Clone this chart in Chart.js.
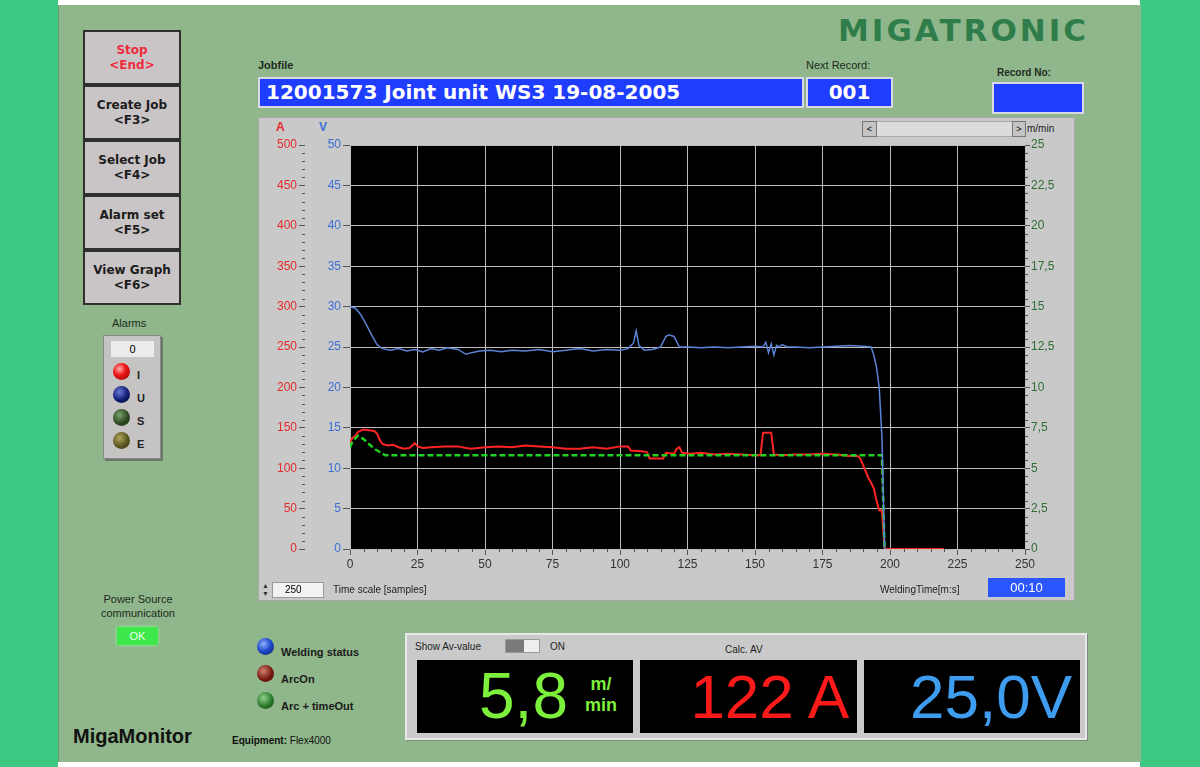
<!DOCTYPE html>
<html>
<head>
<meta charset="utf-8">
<script src="https://cdn.jsdelivr.net/npm/chart.js@4"></script>
<style>
  body { margin: 0; width: 1200px; height: 767px; position: relative; overflow: hidden; background: #fff; font-family: "Liberation Sans", "DejaVu Sans", sans-serif; }
  .abs { position: absolute; }
  .stripe { background: #3ec983; top: 0; height: 767px; }
  #panel { left: 58px; top: 5px; width: 1082px; height: 757px; background: #8fb78b; border-left: 1px solid #6f9a6c; }
  .btn { left: 83px; width: 94px; height: 51px; background: #c9c5c6; border: 2px solid #303030; text-align: center; font: bold 12px "DejaVu Sans", sans-serif; color: #1c1c1c; line-height: 15px; box-sizing: content-box; }
  .btn div { padding-top: 11px; }
  .lbl { font-size: 11px; color: #1f2a1f; }
  .blue { background: #1f3dff; color: #fff; font: bold 20px "DejaVu Sans", sans-serif; border: 2px solid #d8d8e8; box-sizing: border-box; }
  .led { width: 17px; height: 17px; border-radius: 50%; }
  .big { font-family: "Liberation Sans", sans-serif; position: absolute; top: 0; line-height: 73px; }
  .dsp { top: 660px; height: 73px; width: 216px; background: #000; }
</style>
</head>
<body>
<div class="abs stripe" style="left:0;width:58px"></div>
<div class="abs stripe" style="left:1140px;width:60px"></div>
<div class="abs" id="panel"></div>

<div class="abs" style="left:838px;top:12px;font:bold 31px 'DejaVu Sans',sans-serif;color:#2f7d4a;letter-spacing:3px">MIGATRONIC</div>

<!-- buttons -->
<div class="abs btn" style="top:30px;color:#ee2c3c"><div>Stop<br>&lt;End&gt;</div></div>
<div class="abs btn" style="top:85px"><div>Create Job<br>&lt;F3&gt;</div></div>
<div class="abs btn" style="top:140px"><div>Select Job<br>&lt;F4&gt;</div></div>
<div class="abs btn" style="top:195px"><div>Alarm set<br>&lt;F5&gt;</div></div>
<div class="abs btn" style="top:250px"><div>View Graph<br>&lt;F6&gt;</div></div>

<!-- alarms -->
<div class="abs lbl" style="left:112px;top:317px">Alarms</div>
<div class="abs" style="left:103px;top:335px;width:56px;height:122px;background:#c6c3c3;border:1px solid #888;box-shadow:2px 2px 0 #6a7a68"></div>
<div class="abs" style="left:111px;top:341px;width:43px;height:16px;background:#ececec;font-size:11px;text-align:center;line-height:16px">0</div>
<div class="abs led" style="left:113px;top:363px;background:radial-gradient(circle at 38% 35%,#ffb0b0 0,#f01818 40%,#8a0000 100%)"></div>
<div class="abs led" style="left:113px;top:386px;background:radial-gradient(circle at 38% 35%,#6a7ad8 0,#0e1a70 55%,#050a30 100%)"></div>
<div class="abs led" style="left:113px;top:409px;background:radial-gradient(circle at 38% 35%,#7aa070 0,#2c4a22 55%,#152810 100%)"></div>
<div class="abs led" style="left:113px;top:432px;background:radial-gradient(circle at 38% 35%,#b0a860 0,#5a5520 55%,#2e2a10 100%)"></div>
<div class="abs" style="left:137px;top:364px;font:bold 11px sans-serif;color:#222;line-height:23px">I<br>U<br>S<br>E</div>

<!-- power source -->
<div class="abs lbl" style="left:88px;top:592px;width:100px;text-align:center;line-height:14px">Power Source<br>communication</div>
<div class="abs" style="left:117px;top:627px;width:41px;height:18px;background:#3ee84a;box-shadow:0 0 3px #9f9;color:#e8ffe8;font-size:11px;text-align:center;line-height:18px">OK</div>

<div class="abs" style="left:73px;top:725px;font:bold 20px 'Liberation Sans',sans-serif;color:#111">MigaMonitor</div>
<div class="abs" style="left:232px;top:735px;font-size:10px;color:#111"><b>Equipment:</b> Flex4000</div>

<!-- job file header -->
<div class="abs lbl" style="left:258px;top:59px;font-weight:bold">Jobfile</div>
<div class="abs blue" style="left:258px;top:77px;width:546px;height:31px;padding-left:6px;line-height:27px">12001573 Joint unit WS3 19-08-2005</div>
<div class="abs lbl" style="left:806px;top:59px">Next Record:</div>
<div class="abs blue" style="left:806px;top:77px;width:87px;height:31px;text-align:center;line-height:27px">001</div>
<div class="abs lbl" style="left:997px;top:67px;font-weight:bold;font-size:10px">Record No:</div>
<div class="abs blue" style="left:992px;top:82px;width:92px;height:32px"></div>

<!-- graph panel -->
<div class="abs" style="left:258px;top:117px;width:817px;height:484px;background:#c9c9c9;border:1px solid #a8a8a8;box-sizing:border-box"></div>
<div class="abs" style="left:276px;top:120px;font:bold 12px sans-serif;color:#e52a2a">A</div>
<div class="abs" style="left:319px;top:120px;font:bold 12px sans-serif;color:#3d6fd6">V</div>
<div class="abs" style="left:862px;top:121px;width:163px;height:16px;background:#dcdcdc;border:1px solid #aaa;box-sizing:border-box"></div>
<div class="abs" style="left:862px;top:121px;width:15px;height:16px;background:#c4c4c4;border:1px solid #777;box-sizing:border-box;font-size:9px;text-align:center;line-height:14px">&lt;</div>
<div class="abs" style="left:1012px;top:121px;width:14px;height:16px;background:#c4c4c4;border:1px solid #777;box-sizing:border-box;font-size:9px;text-align:center;line-height:14px">&gt;</div>
<div class="abs" style="left:1027px;top:123px;font-size:10px;color:#222">m/min</div>

<div class="abs" style="left:258px;top:118px">
  <canvas id="chart" width="817" height="482"></canvas>
</div>

<div class="abs" style="left:262px;top:582px;width:7px;height:16px;font-size:7px;line-height:8px;color:#333">&#9650;<br>&#9660;</div>
<div class="abs" style="left:272px;top:582px;width:52px;height:16px;background:#f2f2f2;border:1px solid #999;box-sizing:border-box;font-size:10px;line-height:14px;padding-left:12px">250</div>
<div class="abs" style="left:333px;top:584px;font-size:10px;color:#222">Time scale [samples]</div>
<div class="abs" style="left:880px;top:584px;font-size:10px;color:#222">WeldingTime[m:s]</div>
<div class="abs" style="left:988px;top:578px;width:77px;height:19px;background:#2b55ff;color:#fff;font-size:13px;text-align:center;line-height:19px">00:10</div>

<!-- status leds -->
<div class="abs led" style="left:257px;top:638px;background:radial-gradient(circle at 38% 35%,#8ab0ff 0,#1a45c8 50%,#0a1e60 100%)"></div>
<div class="abs led" style="left:257px;top:665px;background:radial-gradient(circle at 38% 35%,#d08070 0,#7a1a10 55%,#3a0a05 100%)"></div>
<div class="abs led" style="left:257px;top:692px;background:radial-gradient(circle at 38% 35%,#90d090 0,#2a7a2a 55%,#0f3a0f 100%)"></div>
<div class="abs" style="left:281px;top:639px;font:bold 11px sans-serif;color:#1a1a1a;line-height:27px">Welding status<br>ArcOn<br>Arc + timeOut</div>

<!-- average display -->
<div class="abs" style="left:405px;top:633px;width:682px;height:107px;background:#cacaca;border:2px solid #e8e8e8;box-sizing:border-box;box-shadow:1px 1px 0 #7a8a78"></div>
<div class="abs" style="left:415px;top:641px;font-size:10px;color:#222">Show Av-value</div>
<div class="abs" style="left:505px;top:639px;width:35px;height:14px;background:#eee;border:1px solid #999;box-sizing:border-box"><div style="width:18px;height:12px;background:#7a7a7a"></div></div>
<div class="abs" style="left:550px;top:641px;font-size:10px;color:#222">ON</div>
<div class="abs" style="left:725px;top:644px;font-size:10px;color:#222">Calc. AV</div>
<div class="abs dsp" style="left:417px">
  <div class="big" style="left:62px;font-size:64px;color:#7cf03a">5,8</div>
  <div class="abs" style="left:168px;top:14px;font:bold 18px 'Liberation Sans',sans-serif;color:#7cf03a;line-height:21px;text-align:center">m/<br>min</div>
</div>
<div class="abs dsp" style="left:640px;width:217px">
  <div class="big" style="right:8px;font-size:62px;color:#ff1a1a">122 A</div>
</div>
<div class="abs dsp" style="left:864px">
  <div class="big" style="right:8px;font-size:62px;color:#3f9df0">25,0V</div>
</div>

<script>
// time axis
const sampleTicks = [0, 25, 50, 75, 100, 125, 150, 175, 200, 225, 250];

// voltage [V]
const voltSamples = [0, 2, 4, 6, 8, 10, 12, 15, 18, 21, 24, 27, 30, 33, 36, 40, 43, 45, 48, 52, 56, 60, 65, 70, 75, 80, 85, 90, 95, 100, 103, 105, 106, 107, 109, 112, 115, 117, 118, 120, 122, 125, 130, 135, 140, 145, 150, 153, 154, 155, 156, 157, 158, 159, 160, 162, 165, 170, 175, 180, 185, 190, 193, 194, 195, 196, 197, 198];
const voltValues = [30, 29.8, 29, 27.8, 26.5, 25.3, 24.8, 24.6, 24.8, 24.5, 24.7, 24.4, 24.8, 24.6, 24.9, 24.7, 24.1, 24.3, 24.5, 24.6, 24.4, 24.6, 24.5, 24.7, 24.4, 24.6, 24.8, 24.5, 24.7, 24.6, 24.8, 25.5, 27.0, 25.2, 24.6, 24.7, 25.0, 26.3, 26.5, 26.3, 25.0, 25.0, 24.9, 25.0, 24.9, 25.0, 25.1, 25.0, 25.6, 24.3, 25.4, 24.0, 25.2, 25.0, 25.3, 25.0, 25.0, 24.9, 25.0, 25.1, 25.2, 25.1, 25.0, 24.0, 22.5, 20, 14, 0];

// current [A]
const currSamples = [0, 1, 2, 3, 5, 7, 9, 10, 11, 12, 14, 16, 18, 20, 22, 24, 25, 27, 30, 35, 40, 43, 45, 50, 55, 60, 65, 70, 75, 80, 85, 90, 95, 100, 103, 104, 108, 110, 111, 116, 117, 120, 121, 122, 123, 126, 130, 135, 140, 145, 150, 152, 153, 156, 157, 160, 165, 170, 175, 180, 185, 188, 189, 190, 191, 192, 193, 194, 195, 196, 197, 198, 220];
const currValues = [132, 138, 140, 145, 148, 147, 146, 143, 135, 130, 128, 129, 126, 124, 125, 131, 127, 125, 126, 127, 127, 125, 124, 126, 127, 126, 128, 127, 126, 124, 124, 126, 124, 127, 127, 122, 121, 120, 112, 112, 119, 118, 124, 126, 119, 118, 119, 117, 118, 117, 116, 116, 144, 144, 117, 116, 117, 117, 118, 117, 115, 115, 112, 104, 96, 88, 82, 75, 60, 48, 48, 0, 0];

// wire speed [m/min]
const wireSamples = [0, 1, 3, 5, 7, 9, 11, 13, 60, 110, 160, 197, 198];
const wireValues = [6.3, 6.7, 7.0, 6.8, 6.5, 6.2, 6.0, 5.8, 5.8, 5.8, 5.8, 5.8, 0];

const toPoints = (xs, ys) => xs.map((x, i) => ({ x: x, y: ys[i] }));
const tickFont = { family: "Liberation Sans", size: 12 };

const blackArea = {
  id: "blackArea",
  beforeDraw(chart) {
    const { ctx, chartArea: a } = chart;
    ctx.save();
    ctx.fillStyle = "#000";
    ctx.fillRect(a.left, a.top, a.right - a.left, a.bottom - a.top);
    ctx.restore();
  },
  afterDraw(chart) {
    // minor tick marks
    const { ctx, chartArea: a, scales } = chart;
    ctx.save();
    ctx.strokeStyle = "#555";
    ctx.lineWidth = 1;
    ctx.beginPath();
    for (let v = 0; v <= 250; v += 5) {
      if (v % 25 === 0) continue;
      const px = Math.round(scales.x.getPixelForValue(v)) + 0.5;
      ctx.moveTo(px, a.bottom); ctx.lineTo(px, a.bottom + 3);
    }
    for (let v = 0; v <= 500; v += 10) {
      if (v % 50 === 0) continue;
      const py = Math.round(scales.yA.getPixelForValue(v)) + 0.5;
      ctx.moveTo(scales.yA.right - 3, py); ctx.lineTo(scales.yA.right, py);
    }
    for (let v = 0; v <= 25; v += 0.5) {
      if (Math.abs(v / 2.5 - Math.round(v / 2.5)) < 1e-6) continue;
      const py = Math.round(scales.yS.getPixelForValue(v)) + 0.5;
      ctx.moveTo(a.right, py); ctx.lineTo(a.right + 3, py);
    }
    ctx.stroke();
    ctx.restore();
  }
};

new Chart(document.getElementById("chart").getContext("2d"), {
  type: "line",
  data: {
    datasets: [
      {
        label: "Voltage",
        data: toPoints(voltSamples, voltValues),
        yAxisID: "yV",
        borderColor: "#5b84d8",
        borderWidth: 1.5,
        pointRadius: 0,
        tension: 0,
      },
      {
        label: "Wire speed",
        data: toPoints(wireSamples, wireValues),
        yAxisID: "yS",
        borderColor: "#22d022",
        borderWidth: 2.5,
        borderDash: [6, 3],
        pointRadius: 0,
        tension: 0,
      },
      {
        label: "Current",
        data: toPoints(currSamples, currValues),
        yAxisID: "yA",
        borderColor: "#ff2424",
        borderWidth: 2,
        pointRadius: 0,
        tension: 0,
      },
    ],
  },
  options: {
    responsive: false,
    animation: false,
    devicePixelRatio: 1,
    layout: { padding: { top: 27, bottom: 21, left: 0, right: 0 } },
    plugins: { legend: { display: false }, tooltip: { enabled: false } },
    scales: {
      x: {
        type: "linear",
        min: 0,
        max: 250,
        afterBuildTicks: (s) => { s.ticks = sampleTicks.map((v) => ({ value: v })); },
        ticks: { color: "#333", font: tickFont, padding: 2, maxRotation: 0 },
        grid: { color: "#bdbdbd", tickColor: "#555", tickLength: 6 },
        border: { display: false },
        afterFit: (s) => { s.height = 30; },
      },
      yA: {
        position: "left",
        weight: 2,
        min: 0,
        max: 500,
        ticks: { stepSize: 50, color: "#e52a2a", font: tickFont, padding: 2 },
        grid: { color: "#bdbdbd", tickColor: "#555", tickLength: 6 },
        border: { display: false },
        afterFit: (s) => { s.width = 47; },
      },
      yV: {
        position: "left",
        weight: 1,
        min: 0,
        max: 50,
        ticks: { stepSize: 5, color: "#3d6fd6", font: tickFont, padding: 2 },
        grid: { drawOnChartArea: false, tickColor: "#555", tickLength: 7 },
        border: { display: false },
        afterFit: (s) => { s.width = 45; },
      },
      yS: {
        position: "right",
        min: 0,
        max: 25,
        ticks: {
          stepSize: 2.5,
          color: "#2f6e35",
          font: tickFont,
          padding: 1,
          callback: (v) => (Number.isInteger(v) ? String(v) : v.toFixed(1).replace(".", ",")),
        },
        grid: { drawOnChartArea: false, tickColor: "#555", tickLength: 5 },
        border: { display: false },
        afterFit: (s) => { s.width = 50; },
      },
    },
  },
  plugins: [blackArea],
});
</script>
</body>
</html>
